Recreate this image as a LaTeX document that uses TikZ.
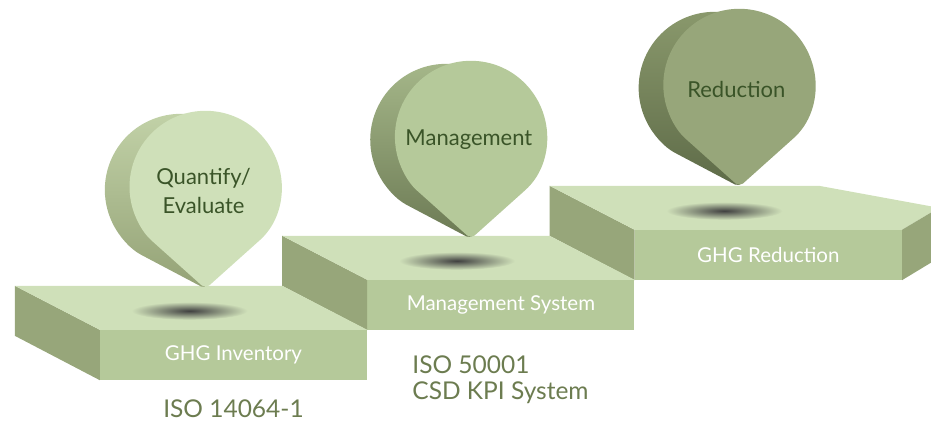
\documentclass[tikz,border=0pt]{standalone}
\usepackage{fontspec}
\setmainfont{Lato}
\usetikzlibrary{positioning,calc}
\definecolor{topc}{RGB}{207,224,185}
\definecolor{frontc}{RGB}{181,201,154}
\definecolor{sidec}{RGB}{151,166,122}
\definecolor{droptxt}{RGB}{58,84,40}
\definecolor{isotxt}{RGB}{108,124,80}
\definecolor{sideA}{RGB}{196,212,170}
\definecolor{sideAd}{RGB}{148,162,118}
\definecolor{sideB}{RGB}{168,186,140}
\definecolor{sideBd}{RGB}{108,122,84}
\definecolor{sideC}{RGB}{140,155,110}
\definecolor{sideCd}{RGB}{94,107,72}
\tikzset{
  front/.style={fill=frontc, minimum width=267pt, minimum height=50pt, inner sep=0pt, text=white, font=\fontsize{20.5}{22}\selectfont},
  topface/.style={fill=topc},
  sideface/.style={fill=sidec},
  floorshade/.style={inner color=black!75, outer color=topc},
  droptext/.style={align=center, text=droptxt, font=\fontsize{22}{29}\selectfont},
  isotext/.style={align=left, text=isotxt, inner sep=0pt, font=\fontsize{24.5}{26}\selectfont},
  pics/drop/.style n args={3}{code={
    \shade[top color=#2, bottom color=#3, rotate around={14:(0,-102)}]
      (0,-102) [rounded corners=5pt] -- (-48:76) arc[start angle=-48, end angle=228, radius=76] -- cycle;
    \fill[#1] (0,-102) [rounded corners=5pt] -- (-48:76) arc[start angle=-48, end angle=228, radius=76] -- cycle;
  }}
}
\begin{document}
\begin{tikzpicture}[x=1pt, y=1pt]
  \useasboundingbox (0,0) rectangle (931,423);

  \node[front] (f1) at (233.5,68) {GHG Inventory};
  \node[front, right=0pt of f1, yshift=50pt] (f2) {Management System};
  \node[front, right=0pt of f2, yshift=50pt] (f3) {GHG Reduction};

  \foreach \f in {f1,f2,f3}
    \fill[sideface] (\f.north west) -- ++(-85,44) -- ++(0,-50) -- (\f.south west) -- cycle;
  \foreach \f in {f1,f2}
    \fill[topface] (\f.north west) -- (\f.north east) -- ++(-85,44) -- ($(\f.north west)+(-85,44)$) -- cycle;
  \fill[topface] (f3.north west) -- (f3.north east) -- ++(37,22) -- ($(f3.north east)+(-83,44)$) -- ($(f3.north west)+(-85,44)$) -- cycle;
  \fill[sideface] (f3.north east) -- ++(37,22) -- ++(0,-50) -- (f3.south east) -- cycle;

  \foreach \f in {f1,f2,f3}
    \shade[floorshade] ($(\f.north)+(-44,19)$) ellipse [x radius=58, y radius=9];

  \pic at ($(f1.north)+(-28,143)$) {drop={topc}{sideA}{sideAd}};
  \pic at ($(f2.north)+(-30,143)$) {drop={frontc}{sideB}{sideBd}};
  \pic at ($(f3.north)+(-29,145)$) {drop={sidec}{sideC}{sideCd}};

  \node[droptext] (q) at ($(f1.north)+(-30,139)$) {Quantify/\\Evaluate};
  \node[droptext] (m) at ($(f2.north)+(-32,140)$) {Management};
  \node[droptext] (r) at ($(f3.north)+(-32,140)$) {Reduction};

  \node[isotext, below=19pt of f1] (iso1) {ISO 14064-1};
  \node[isotext, below right=25pt and 45pt of f2.south west] (iso2) {ISO 50001\\CSD KPI System};
\end{tikzpicture}
\end{document}
